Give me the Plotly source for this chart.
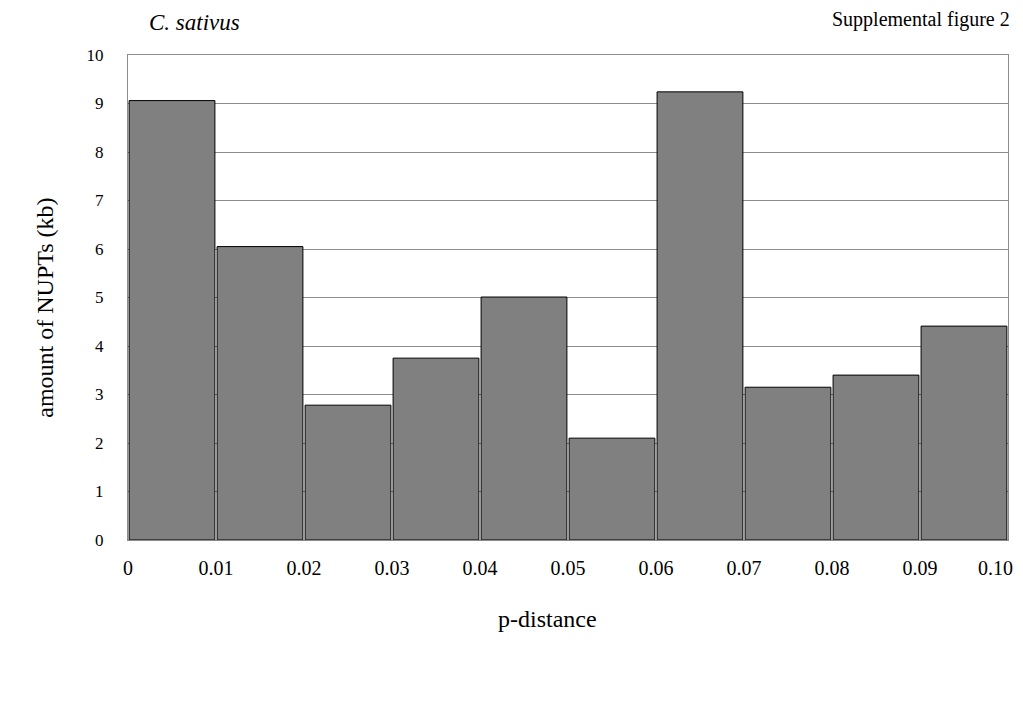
import plotly.graph_objects as go

bin_edges = [0.00, 0.01, 0.02, 0.03, 0.04, 0.05, 0.06, 0.07, 0.08, 0.09, 0.10]
amounts_kb = [9.06, 6.05, 2.78, 3.75, 5.01, 2.10, 9.24, 3.15, 3.40, 4.41]
x_tick_labels = ["0", "0.01", "0.02", "0.03", "0.04", "0.05", "0.06", "0.07", "0.08", "0.09", "0.10"]
y_ticks = list(range(0, 11))

centers = [(bin_edges[i] + bin_edges[i + 1]) / 2 for i in range(len(amounts_kb))]
widths = [(bin_edges[i + 1] - bin_edges[i]) * 0.975 for i in range(len(amounts_kb))]

# last label sits a little left of its tick so it stays inside the page
shown_labels = list(x_tick_labels)
shown_labels[-1] = shown_labels[-1] + "\u00a0" * 5

FONT = "Liberation Serif, Times New Roman, serif"

# page body has an 8px margin, so work in page coords and subtract the offset
OFF = 8
W, H = 1023 - OFF, 680
L, R, T, B = 128 - OFF, 1008 - OFF, 55 - OFF, 540.5 - OFF

fig = go.Figure()
fig.add_trace(go.Bar(
    x=centers, y=amounts_kb, width=widths,
    marker=dict(color="#808080", line=dict(color="#000000", width=1)),
    hoverinfo="x+y",
))

fig.update_layout(
    width=W, height=H,
    margin=dict(l=L, r=W - R, t=T, b=H - B, pad=0, autoexpand=False),
    paper_bgcolor="white", plot_bgcolor="white",
    showlegend=False,
    font=dict(family=FONT, color="black"),
    xaxis=dict(
        range=[0, bin_edges[-1] * 1.00001], tickvals=bin_edges, ticktext=shown_labels,
        showgrid=False, zeroline=False, automargin=False,
        showline=True, linecolor="#8c8c8c", linewidth=1, mirror=True,
        ticks="", ticklabelstandoff=10, ticklabeloverflow="allow",
        tickfont=dict(family=FONT, size=20, color="black"),
    ),
    yaxis=dict(
        range=[0, 10], tickvals=y_ticks, automargin=False,
        showgrid=True, gridcolor="#8c8c8c", gridwidth=1, zeroline=False,
        showline=True, linecolor="#8c8c8c", linewidth=1, mirror=True,
        ticks="", ticklabelstandoff=20,
        tickfont=dict(family=FONT, size=17, color="black"),
    ),
)

pw, ph = R - L, B - T


def ann(text, px, py, size, xanchor="center", angle=0):
    fig.add_annotation(
        text=text, showarrow=False, textangle=angle,
        x=(px - OFF - L) / pw, y=1 - (py - OFF - T) / ph,
        xref="paper", yref="paper", xanchor=xanchor, yanchor="middle",
        font=dict(family=FONT, size=size, color="black"),
    )


ann("<i>C. sativus</i>", 147, 22, 23, xanchor="left")
ann("Supplemental figure 2", 1012, 19, 20, xanchor="right")
ann("p-distance", 547, 620, 24)
ann("amount of NUPTs (kb)", 45, 308, 24, angle=-90)

fig.write_html("out.html")
